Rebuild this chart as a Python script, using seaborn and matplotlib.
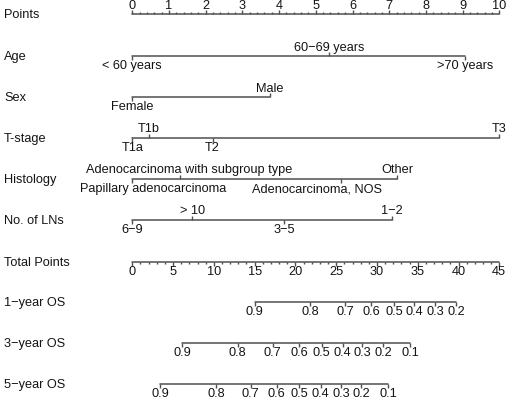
import numpy as np
import matplotlib
matplotlib.use("Agg")
import matplotlib.pyplot as plt
import seaborn as sns

# ---- data (points scale 0-10, total points 0-45) ----
points_ticks = list(range(0, 11))

age_labels = ["< 60 years", "60\u221269 years", ">70 years"]
age_pts = [0, 5.36, 9.07]
age_side = ["below", "above", "below"]

sex_labels = ["Female", "Male"]
sex_pts = [0, 3.74]
sex_side = ["below", "above"]

t_labels = ["T1a", "T1b", "T2", "T3"]
t_pts = [0, 0.46, 2.19, 10]
t_side = ["below", "above", "below", "above"]

hist_labels = ["Papillary adenocarcinoma", "Adenocarcinoma with subgroup type",
               "Adenocarcinoma, NOS", "Other"]
hist_pts = [0, 1.31, 5.68, 7.21]
hist_side = ["below", "above", "below", "above"]
hist_shift = [21, 9, -24, 0]

ln_labels = ["6\u22129", "> 10", "3\u22125", "1\u22122"]
ln_pts = [0, 1.64, 4.13, 7.08]
ln_side = ["below", "above", "below", "above"]

total_ticks = list(range(0, 46, 5))

os1_labels = ["0.9", "0.8", "0.7", "0.6", "0.5", "0.4", "0.3", "0.2"]
os1_total = [15.0, 21.8, 26.1, 29.3, 32.1, 34.6, 37.1, 39.7]
os3_labels = ["0.9", "0.8", "0.7", "0.6", "0.5", "0.4", "0.3", "0.2", "0.1"]
os3_total = [6.1, 12.9, 17.2, 20.5, 23.2, 25.8, 28.2, 30.8, 34.1]
os5_labels = ["0.9", "0.8", "0.7", "0.6", "0.5", "0.4", "0.3", "0.2", "0.1"]
os5_total = [3.4, 10.3, 14.5, 17.7, 20.5, 23.1, 25.6, 28.1, 31.4]

row_names = ["Points", "Age", "Sex", "T-stage", "Histology", "No. of LNs",
             "Total Points", "1\u2212year OS", "3\u2212year OS", "5\u2212year OS"]
row_y = [15, 57, 98, 139, 180, 221, 263, 303, 344, 385]

sns.set_style("white")
plt.rcParams["font.family"] = ["Liberation Sans", "DejaVu Sans"]

line_c = "#505050"
text_c = "#141414"
fs = 9.2

fig = plt.figure(figsize=(5.1, 4.02), dpi=100)
ax = fig.add_axes([0, 0, 1, 1])
px_per_pt = 36.7
x0 = 132.3
ax.set_xlim(-x0 / px_per_pt, (510 - x0) / px_per_pt)
ax.set_ylim(402, 0)
ax.axis("off")

def span(a, b, y):
    sns.lineplot(x=[a, b], y=[y, y], color=line_c, lw=1.1, ax=ax,
                 estimator=None, sort=False)

def tick(x, y, length):
    ax.vlines(x, y, y + length, color=line_c, lw=1.0)

# row names
for name, y in zip(row_names, row_y):
    ax.text(4 / 510, y, name, transform=ax.get_yaxis_transform(),
            ha="left", va="center", fontsize=fs, color=text_c)

# Points axis
yp = row_y[0]
span(0, 10, yp)
for v in np.arange(0, 10.01, 0.2):
    major = abs(v - round(v)) < 1e-6
    tick(v, yp, -4 if major else -2)
for v in points_ticks:
    ax.text(v, yp - 9, str(v), ha="center", va="center", fontsize=fs, color=text_c)

# categorical rows
cats = [
    (age_labels, age_pts, age_side, None),
    (sex_labels, sex_pts, sex_side, None),
    (t_labels, t_pts, t_side, None),
    (hist_labels, hist_pts, hist_side, hist_shift),
    (ln_labels, ln_pts, ln_side, None),
]
for (labels, pts, sides, shift), y in zip(cats, row_y[1:6]):
    span(min(pts), max(pts), y)
    for i, (lab, p, s) in enumerate(zip(labels, pts, sides)):
        d = -1 if s == "above" else 1
        tick(p, y, 4 * d)
        dx = shift[i] / px_per_pt if shift else 0
        ax.text(p + dx, y + 9.5 * d, lab, ha="center", va="center",
                fontsize=fs, color=text_c)

# Total points axis
tp_scale = 10 / 45
yt = row_y[6]
span(0, 45 * tp_scale, yt)
for v in range(0, 46):
    tick(v * tp_scale, yt, 4 if v % 5 == 0 else 2)
for v in total_ticks:
    ax.text(v * tp_scale, yt + 9, str(v), ha="center", va="center",
            fontsize=fs, color=text_c)

# survival axes
for labels, tot, y in [(os1_labels, os1_total, row_y[7]),
                       (os3_labels, os3_total, row_y[8]),
                       (os5_labels, os5_total, row_y[9])]:
    xs = [t * tp_scale for t in tot]
    span(min(xs), max(xs), y)
    for lab, x in zip(labels, xs):
        tick(x, y, 4)
        ax.text(x, y + 9.5, lab, ha="center", va="center", fontsize=fs, color=text_c)

fig.savefig("out.png", dpi=100)
